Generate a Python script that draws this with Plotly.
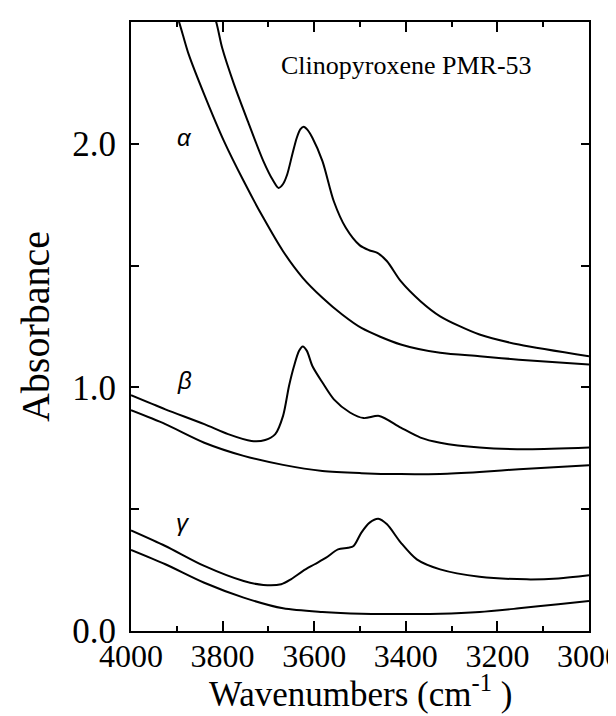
import plotly.graph_objects as go

# alpha spectra
alpha_top_wn = [3830, 3814, 3801, 3775, 3745, 3711, 3690, 3678, 3668, 3659, 3648, 3638, 3630, 3623, 3615, 3604, 3582, 3557,
                3531, 3501, 3480, 3462, 3441, 3411, 3368, 3325, 3239, 3153, 3000]
alpha_top_a = [2.58, 2.50, 2.394, 2.244, 2.093, 1.929, 1.850, 1.819, 1.835, 1.874, 1.955, 2.025, 2.060, 2.070, 2.058, 2.025, 1.929, 1.763,
               1.655, 1.584, 1.563, 1.552, 1.518, 1.436, 1.354, 1.292, 1.217, 1.176, 1.128]

alpha_base_wn = [3905, 3895, 3887, 3874, 3840, 3797, 3754, 3711, 3668, 3625, 3582, 3539, 3497, 3411, 3325, 3239, 3153, 3000]
alpha_base_a = [2.56, 2.50, 2.449, 2.367, 2.202, 2.011, 1.847, 1.696, 1.559, 1.450, 1.368, 1.299, 1.244, 1.176, 1.142, 1.128, 1.114, 1.094]

# beta spectra
beta_top_wn = [4000, 3925, 3840, 3788, 3737, 3707, 3685, 3668, 3655, 3644, 3633, 3625, 3616, 3604, 3582, 3557, 3522, 3492,
               3458, 3411, 3368, 3325, 3239, 3136, 3000]
beta_top_a = [0.968, 0.910, 0.849, 0.808, 0.780, 0.784, 0.808, 0.883, 1.006, 1.088, 1.150, 1.168, 1.150, 1.088, 1.020, 0.951, 0.897, 0.874,
              0.883, 0.835, 0.794, 0.773, 0.753, 0.746, 0.753]

beta_base_wn = [4000, 3925, 3840, 3754, 3668, 3582, 3497, 3411, 3325, 3239, 3153, 3000]
beta_base_a = [0.906, 0.849, 0.773, 0.719, 0.682, 0.657, 0.648, 0.644, 0.645, 0.653, 0.664, 0.680]

# gamma spectra
gamma_top_wn = [4000, 3925, 3840, 3754, 3711, 3672, 3651, 3625, 3599, 3574, 3548, 3526, 3514, 3497, 3479, 3460, 3441, 3411,
                3376, 3325, 3239, 3136, 3067, 3000]
gamma_top_a = [0.413, 0.349, 0.267, 0.205, 0.189, 0.192, 0.212, 0.246, 0.274, 0.301, 0.335, 0.342, 0.349, 0.404, 0.445, 0.461, 0.438, 0.363,
               0.294, 0.253, 0.223, 0.212, 0.216, 0.229]

gamma_base_wn = [4000, 3925, 3840, 3754, 3668, 3582, 3497, 3411, 3325, 3239, 3153, 3067, 3000]
gamma_base_a = [0.333, 0.274, 0.198, 0.137, 0.093, 0.078, 0.071, 0.070, 0.071, 0.078, 0.093, 0.110, 0.123]

series = [
    (alpha_top_wn, alpha_top_a),
    (alpha_base_wn, alpha_base_a),
    (beta_top_wn, beta_top_a),
    (beta_base_wn, beta_base_a),
    (gamma_top_wn, gamma_top_a),
    (gamma_base_wn, gamma_base_a),
]

labels = ['α', 'β', 'γ']
label_wn = [3884, 3884, 3887]
label_a = [2.025, 1.027, 0.444]

y_ticks = [0, 0.5, 1.0, 1.5, 2.0]
y_ticktext = ['0.0', '', '1.0', '', '2.0']

fig = go.Figure()

for wn, a in series:
    fig.add_trace(
        go.Scatter(
            x=wn,
            y=a,
            mode='lines',
            line=dict(color='black', width=2, shape='spline', smoothing=0.8),
            showlegend=False
        )
    )

for lab, wn, a in zip(labels, label_wn, label_a):
    fig.add_annotation(
        x=wn, y=a, text='<i>' + lab + '</i>', showarrow=False,
        font=dict(family='Liberation Sans', size=24, color='black')
    )

fig.add_annotation(
    x=3398, y=2.32, text='Clinopyroxene PMR-53', showarrow=False,
    font=dict(family='Liberation Serif', size=26, color='black')
)

# x axis title, placed by hand so it fits under the big tick labels
fig.add_annotation(
    xref='paper', yref='paper', x=0.5, y=-0.14, xanchor='center', yanchor='bottom',
    text='Wavenumbers (cm<sup>-1</sup> )', showarrow=False,
    font=dict(family='Liberation Serif', size=35, color='black')
)

fig.update_layout(
    width=616,
    height=716,
    margin=dict(l=123, r=35, t=14, b=93),
    paper_bgcolor='white',
    plot_bgcolor='white',
    font=dict(family='Liberation Serif', color='black'),
    xaxis=dict(
        range=[4000, 3000],
        tickvals=[4000, 3800, 3600, 3400, 3200, 3000],
        ticks='inside', ticklen=10, tickwidth=2, tickcolor='black',
        minor=dict(dtick=100, tick0=3000, ticks='inside', ticklen=5, tickwidth=2, tickcolor='black'),
        showline=True, linecolor='black', linewidth=2, mirror='ticks',
        showgrid=False, zeroline=False, automargin=False,
        ticklabelstandoff=-4,
        tickfont=dict(size=32),
    ),
    yaxis=dict(
        range=[0, 2.5],
        tickvals=y_ticks, ticktext=y_ticktext,
        ticks='inside', ticklen=8, tickwidth=2, tickcolor='black',
        showline=True, linecolor='black', linewidth=2, mirror='ticks',
        showgrid=False, zeroline=False, automargin=False,
        ticklabelstandoff=6,
        tickfont=dict(size=35),
        title=dict(text='Absorbance', font=dict(size=40), standoff=10),
    ),
)

fig.write_html("out.html")
